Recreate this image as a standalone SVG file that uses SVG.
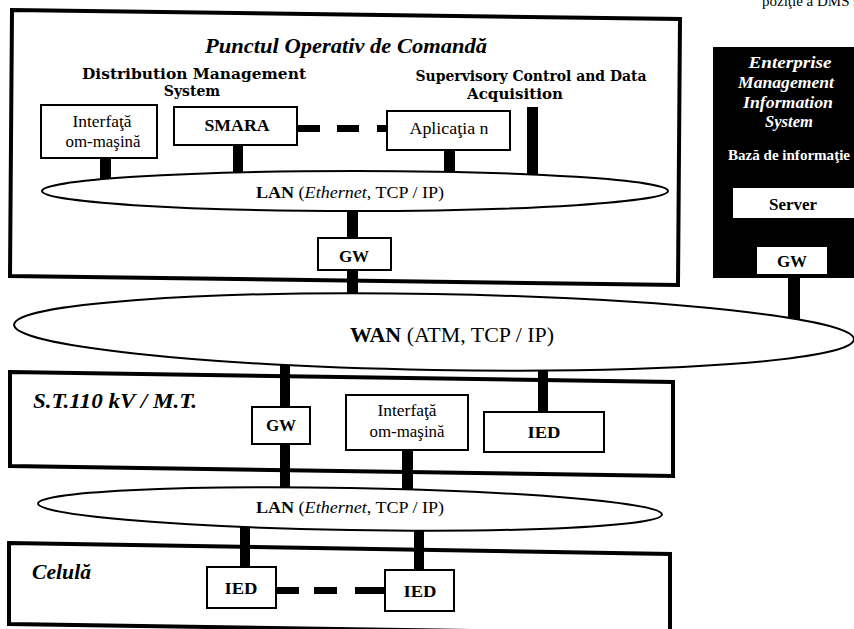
<svg xmlns="http://www.w3.org/2000/svg" width="854" height="629" viewBox="0 0 854 629">
<style>
.frame{fill:#fff;stroke:#000;stroke-width:4;stroke-linejoin:miter}
.box{fill:#fff;stroke:#000;stroke-width:2}
.net{fill:#fff;stroke:#000;stroke-width:2}
.bar{fill:#000}
.s{font-family:"Liberation Serif","Times New Roman",serif;fill:#000}
.hdr{font-family:"DejaVu Serif",serif;font-weight:bold;font-size:14px;fill:#000}
.bi{font-weight:bold;font-style:italic}
.b{font-weight:bold}
.i{font-style:italic}
.w{fill:#fff}
</style>
<text class="s" x="762" y="6" font-size="15">poziţie a DMS şi</text>
<g id="frame-pod">
<polygon class="frame" points="12,10 680,19 678,285 10,276"/>
<text class="s bi" x="346" y="53" font-size="22" text-anchor="middle" textLength="282" lengthAdjust="spacingAndGlyphs">Punctul Operativ de Comandă</text>
<text class="hdr" x="194" y="79" text-anchor="middle" textLength="224" lengthAdjust="spacingAndGlyphs">Distribution Management</text>
<text class="hdr" x="192" y="96" text-anchor="middle">System</text>
<text class="hdr" x="531" y="81" text-anchor="middle" textLength="231" lengthAdjust="spacingAndGlyphs">Supervisory Control and Data</text>
<text class="hdr" x="515" y="99" text-anchor="middle" textLength="96" lengthAdjust="spacingAndGlyphs">Acquisition</text>
</g>
<g id="frame-st">
<polygon class="frame" points="10,372 673,382 673,476 10,466"/>
<text class="s bi" x="33" y="408" font-size="21" textLength="164" lengthAdjust="spacingAndGlyphs">S.T.110 kV / M.T.</text>
</g>
<g id="frame-celula">
<polygon class="frame" points="9,543 670,554 670,634 9,624"/>
<text class="s bi" x="32" y="579" font-size="21" textLength="59" lengthAdjust="spacingAndGlyphs">Celulă</text>
</g>
<g id="emis">
<rect x="713" y="47" width="145" height="231" fill="#000"/>
<text class="s bi w" x="790" y="68" font-size="16" text-anchor="middle" textLength="83" lengthAdjust="spacingAndGlyphs">Enterprise</text>
<text class="s bi w" x="786" y="88" font-size="16" text-anchor="middle" textLength="96" lengthAdjust="spacingAndGlyphs">Management</text>
<text class="s bi w" x="788" y="108" font-size="16" text-anchor="middle" textLength="90" lengthAdjust="spacingAndGlyphs">Information</text>
<text class="s bi w" x="789" y="127" font-size="16" text-anchor="middle" textLength="48" lengthAdjust="spacingAndGlyphs">System</text>
<text class="s b w" x="789" y="160" font-size="15" text-anchor="middle" textLength="122" lengthAdjust="spacingAndGlyphs">Bază de informaţie</text>
</g>
<g id="connectors">
<rect class="bar" x="100" y="156" width="11" height="30"/>
<rect class="bar" x="233" y="143" width="10" height="37"/>
<rect class="bar" x="444" y="148" width="11" height="28"/>
<rect class="bar" x="527" y="107" width="11" height="75"/>
<rect class="bar" x="297" y="125" width="23" height="7"/>
<rect class="bar" x="337" y="125" width="22" height="7"/>
<rect class="bar" x="377" y="125" width="11" height="7"/>
<rect class="bar" x="347" y="205" width="11" height="93"/>
<rect class="bar" x="788" y="276" width="12" height="46"/>
<rect class="bar" x="280" y="358" width="10" height="137"/>
<rect class="bar" x="538" y="358" width="10" height="56"/>
<rect class="bar" x="402" y="448" width="11" height="47"/>
<rect class="bar" x="240" y="520" width="10" height="49"/>
<rect class="bar" x="414" y="520" width="10" height="52"/>
<rect class="bar" x="276" y="587" width="23" height="7"/>
<rect class="bar" x="314" y="587" width="23" height="7"/>
<rect class="bar" x="355" y="587" width="31" height="7"/>
</g>
<g id="lan-pod">
<ellipse class="net" cx="355" cy="191" rx="313" ry="20"/>
<text class="s" x="350" y="198" font-size="16" text-anchor="middle" textLength="188" lengthAdjust="spacingAndGlyphs"><tspan class="b">LAN</tspan> (<tspan class="i">Ethernet</tspan>, TCP / IP)</text>
</g>
<g id="wan">
<ellipse class="net" cx="434" cy="332" rx="420" ry="38" transform="rotate(1 434 332)"/>
<text class="s" x="452" y="342" font-size="21" text-anchor="middle" textLength="204" lengthAdjust="spacingAndGlyphs"><tspan class="b">WAN</tspan> (ATM, TCP / IP)</text>
</g>
<g id="lan-st">
<ellipse class="net" cx="350" cy="509" rx="312" ry="21" transform="rotate(1 350 509)"/>
<text class="s" x="350" y="513" font-size="16" text-anchor="middle" textLength="188" lengthAdjust="spacingAndGlyphs"><tspan class="b">LAN</tspan> (<tspan class="i">Ethernet</tspan>, TCP / IP)</text>
</g>
<g id="hmi-pod">
<rect class="box" x="41" y="105" width="116" height="53"/>
<text class="s" x="102" y="127" font-size="16" text-anchor="middle" textLength="59" lengthAdjust="spacingAndGlyphs">Interfaţă</text>
<text class="s" x="103" y="147" font-size="16" text-anchor="middle" textLength="75" lengthAdjust="spacingAndGlyphs">om-maşină</text>
</g>
<g id="smara">
<rect class="box" x="174" y="107" width="123" height="38"/>
<text class="s b" x="237" y="131" font-size="17" text-anchor="middle" textLength="65" lengthAdjust="spacingAndGlyphs">SMARA</text>
</g>
<g id="aplicatia">
<rect class="box" x="387" y="111" width="123" height="39"/>
<text class="s" x="449" y="134" font-size="17" text-anchor="middle" textLength="79" lengthAdjust="spacingAndGlyphs">Aplicaţia n</text>
</g>
<g id="gw-pod">
<rect class="box" x="318" y="238" width="73" height="32"/>
<text class="s b" x="354" y="262" font-size="17" text-anchor="middle">GW</text>
</g>
<g id="server">
<rect x="733" y="188" width="125" height="30" fill="#fff"/>
<text class="s b" x="793" y="210" font-size="17" text-anchor="middle">Server</text>
</g>
<g id="gw-emis">
<rect x="757" y="247" width="70" height="27" fill="#fff"/>
<text class="s b" x="792" y="267" font-size="17" text-anchor="middle">GW</text>
</g>
<g id="gw-st">
<rect class="box" x="252" y="407" width="58" height="37"/>
<text class="s b" x="281" y="431" font-size="17" text-anchor="middle">GW</text>
</g>
<g id="hmi-st">
<rect class="box" x="346" y="395" width="122" height="55"/>
<text class="s" x="407" y="416" font-size="16" text-anchor="middle" textLength="59" lengthAdjust="spacingAndGlyphs">Interfaţă</text>
<text class="s" x="407" y="437" font-size="16" text-anchor="middle" textLength="75" lengthAdjust="spacingAndGlyphs">om-maşină</text>
</g>
<g id="ied-st">
<rect class="box" x="484" y="412" width="120" height="40"/>
<text class="s b" x="544" y="438" font-size="17" text-anchor="middle" textLength="33" lengthAdjust="spacingAndGlyphs">IED</text>
</g>
<g id="ied-1">
<rect class="box" x="207" y="567" width="69" height="41"/>
<text class="s b" x="241" y="594" font-size="17" text-anchor="middle" textLength="33" lengthAdjust="spacingAndGlyphs">IED</text>
</g>
<g id="ied-2">
<rect class="box" x="385" y="570" width="69" height="41"/>
<text class="s b" x="420" y="597" font-size="17" text-anchor="middle" textLength="33" lengthAdjust="spacingAndGlyphs">IED</text>
</g>
</svg>
